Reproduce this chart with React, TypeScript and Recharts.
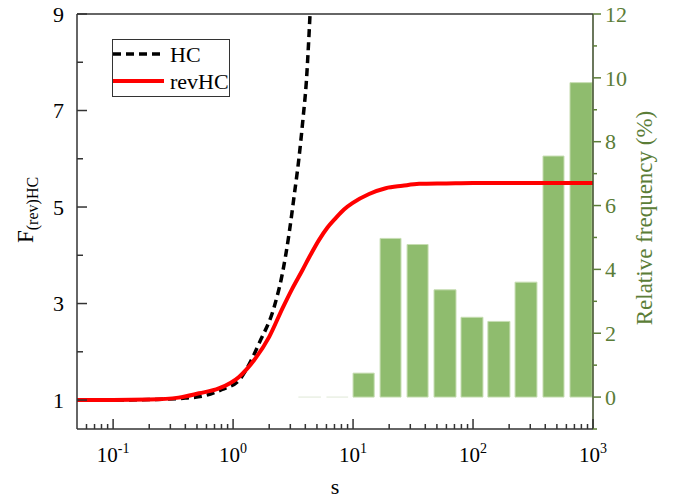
import {
  ComposedChart,
  Line,
  XAxis,
  YAxis,
  ReferenceArea,
  ReferenceLine,
  Legend,
  Label,
} from "recharts";

// HC curve (dashed black)
const hcS = [0.05, 0.1, 0.2, 0.4, 0.6, 0.81, 1.12, 1.36, 1.65, 2.2, 2.58, 2.93, 3.22, 3.55, 3.83, 4.08, 4.3, 4.38];
const hcF = [1.0, 1.0, 1.01, 1.04, 1.1, 1.22, 1.41, 1.74, 2.18, 2.93, 3.63, 4.45, 5.21, 6.04, 6.84, 7.6, 8.6, 9.0];

// revHC curve (solid red)
const revS = [0.05, 0.1, 0.2, 0.35, 0.52, 0.76, 1.12, 1.5, 2.0, 2.58, 3.1, 3.78, 4.4, 5.21, 6.1, 7.17, 8.4, 9.87, 13.6, 18.7, 25.8, 35.5, 60, 100, 1000];
const revF = [1.0, 1.0, 1.01, 1.05, 1.14, 1.24, 1.48, 1.83, 2.31, 2.9, 3.3, 3.69, 4.0, 4.32, 4.57, 4.77, 4.95, 5.08, 5.27, 5.39, 5.44, 5.48, 5.49, 5.5, 5.5];

// histogram bins (s range) and relative frequency (%)
const binLo = [3.5, 6.0, 10, 16.8, 28.2, 47.3, 79.4, 133, 224, 383, 643];
const binHi = [5.4, 9.1, 15.0, 25.1, 42.2, 72.1, 121, 203, 341, 573, 985];
const freq = [0, 0, 0.75, 4.97, 4.78, 3.36, 2.5, 2.37, 3.6, 7.55, 9.85];

const leftTicks = [1, 2, 3, 4, 5, 6, 7, 8, 9];
const leftLabels = [1, 3, 5, 7, 9];
const rightTicks = [-1, 0, 1, 2, 3, 4, 5, 6, 7, 8, 9, 10, 11, 12];
const rightLabels = [0, 2, 4, 6, 8, 10, 12];
const decades = [0.1, 1, 10, 100, 1000];
const decadeExp = ["-1", "0", "1", "2", "3"];
const minorTicks = [
  0.06, 0.07, 0.08, 0.09,
  0.2, 0.3, 0.4, 0.5, 0.6, 0.7, 0.8, 0.9,
  2, 3, 4, 5, 6, 7, 8, 9,
  20, 30, 40, 50, 60, 70, 80, 90,
  200, 300, 400, 500, 600, 700, 800, 900,
];

const hcData = hcS.map((s, i) => ({ s, hc: hcF[i] }));
const revData = revS.map((s, i) => ({ s, rev: revF[i] }));

const FONT = "Liberation Serif, Times New Roman, serif";
const AXIS = "#333";
const GREEN_TEXT = "#5b7d37";
const GREEN_AXIS = "#3a4a26";

function XTick(props: any) {
  const { x, y, payload } = props;
  const idx = decades.findIndex((d) => Math.abs(d - payload.value) < 1e-9);
  const major = idx >= 0;
  return (
    <g>
      <line x1={x} x2={x} y1={y} y2={y - (major ? 10 : 5)} stroke={AXIS} strokeWidth={1.5} />
      {major && (
        <text x={x} y={y + 33} textAnchor="middle" fontFamily={FONT} fontSize={21} fill="#000">
          10
          <tspan dy={-9} fontSize={14}>
            {decadeExp[idx]}
          </tspan>
        </text>
      )}
    </g>
  );
}

function LeftTick(props: any) {
  const { x, y, payload } = props;
  const major = leftLabels.includes(payload.value);
  return (
    <g>
      <line x1={x} x2={x + (major ? 10 : 6)} y1={y} y2={y} stroke={AXIS} strokeWidth={1.5} />
      {major && (
        <text x={x - 13} y={y} dy="0.35em" textAnchor="end" fontFamily={FONT} fontSize={22} fill="#000">
          {payload.value}
        </text>
      )}
    </g>
  );
}

function RightTick(props: any) {
  const { x, y, payload } = props;
  const major = rightLabels.includes(payload.value);
  return (
    <g>
      <line x1={x} x2={x + (major ? 8 : 4)} y1={y} y2={y} stroke={GREEN_TEXT} strokeWidth={1.5} />
      {major && (
        <text x={x + 12} y={y} dy="0.35em" textAnchor="start" fontFamily={FONT} fontSize={22} fill={GREEN_TEXT}>
          {payload.value}
        </text>
      )}
    </g>
  );
}

function LegendBox() {
  return (
    <svg width={118} height={58} style={{ display: "block" }}>
      <rect x={0.5} y={0.5} width={117} height={57} fill="#fff" stroke={AXIS} strokeWidth={1} />
      <line x1={1} x2={52} y1={15} y2={15} stroke="#000" strokeWidth={3.5} strokeDasharray="8 5" />
      <text x={58} y={15} dy="0.35em" fontFamily={FONT} fontSize={22} fill="#000">
        HC
      </text>
      <line x1={1} x2={52} y1={42} y2={42} stroke="#ff0000" strokeWidth={4} />
      <text x={58} y={42} dy="0.35em" fontFamily={FONT} fontSize={22} fill="#000">
        revHC
      </text>
    </svg>
  );
}

export default function App() {
  return (
    <div style={{ position: "absolute", left: 0, top: 0, width: 680, height: 498, background: "#fff" }}>
      <ComposedChart width={680} height={498} margin={{ top: 14, right: 0, bottom: 0, left: 0 }}>
        <XAxis
          dataKey="s"
          type="number"
          scale="log"
          domain={[0.05, 1000]}
          allowDataOverflow
          ticks={[...decades, ...minorTicks]}
          interval={0}
          tickSize={0}
          tickMargin={0}
          tickLine={false}
          tick={<XTick />}
          axisLine={{ stroke: AXIS, strokeWidth: 1.5 }}
          height={69}
        >
          <Label
            content={(p: any) => (
              <text
                x={p.viewBox.x + p.viewBox.width / 2}
                y={p.viewBox.y + 65}
                textAnchor="middle"
                fontFamily={FONT}
                fontSize={22}
                fill="#000"
              >
                s
              </text>
            )}
          />
        </XAxis>
        <YAxis
          yAxisId="left"
          domain={[0.4, 9]}
          allowDataOverflow
          ticks={leftTicks}
          interval={0}
          tickSize={0}
          tickMargin={0}
          tickLine={false}
          tick={<LeftTick />}
          axisLine={{ stroke: AXIS, strokeWidth: 1.5 }}
          width={77}
        >
          <Label
            content={() => (
              <text transform="translate(33,243) rotate(-90)" fontFamily={FONT} fill="#000" textAnchor="start">
                <tspan fontSize={23}>F</tspan>
                <tspan fontSize={16} dy={5}>
                  (rev)HC
                </tspan>
              </text>
            )}
          />
        </YAxis>
        <YAxis
          yAxisId="right"
          orientation="right"
          domain={[-1, 12]}
          allowDataOverflow
          ticks={rightTicks}
          interval={0}
          tickSize={0}
          tickMargin={0}
          tickLine={false}
          tick={<RightTick />}
          axisLine={{ stroke: GREEN_AXIS, strokeWidth: 1.5 }}
          width={87}
        >
          <Label
            content={() => (
              <text
                transform="translate(652,218) rotate(-90)"
                fontFamily={FONT}
                fontSize={23}
                fill={GREEN_TEXT}
                textAnchor="middle"
              >
                Relative frequency (%)
              </text>
            )}
          />
        </YAxis>

        {freq.map((f, i) =>
          f > 0 ? (
            <ReferenceArea
              key={"bar" + i}
              yAxisId="right"
              x1={binLo[i]}
              x2={binHi[i]}
              y1={0}
              y2={f}
              fill="#8fbc6e"
              fillOpacity={1}
              stroke="#c6ddb2"
              strokeWidth={1}
            />
          ) : (
            <ReferenceLine
              key={"bar" + i}
              yAxisId="right"
              segment={[
                { x: binLo[i], y: 0 },
                { x: binHi[i], y: 0 },
              ]}
              stroke="#dfe8d6"
              strokeWidth={1}
            />
          )
        )}

        <ReferenceLine yAxisId="left" y={9} stroke={AXIS} strokeWidth={1.5} />

        <Line
          yAxisId="left"
          data={hcData}
          dataKey="hc"
          type="monotone"
          stroke="#000"
          strokeWidth={3.5}
          strokeDasharray="8 5"
          dot={false}
          isAnimationActive={false}
        />
        <Line
          yAxisId="left"
          data={revData}
          dataKey="rev"
          type="monotone"
          stroke="#ff0000"
          strokeWidth={4}
          dot={false}
          isAnimationActive={false}
        />

        <Legend
          layout="vertical"
          align="center"
          verticalAlign="middle"
          wrapperStyle={{ left: 112, top: 39, width: 118 }}
          content={() => <LegendBox />}
        />
      </ComposedChart>
    </div>
  );
}
